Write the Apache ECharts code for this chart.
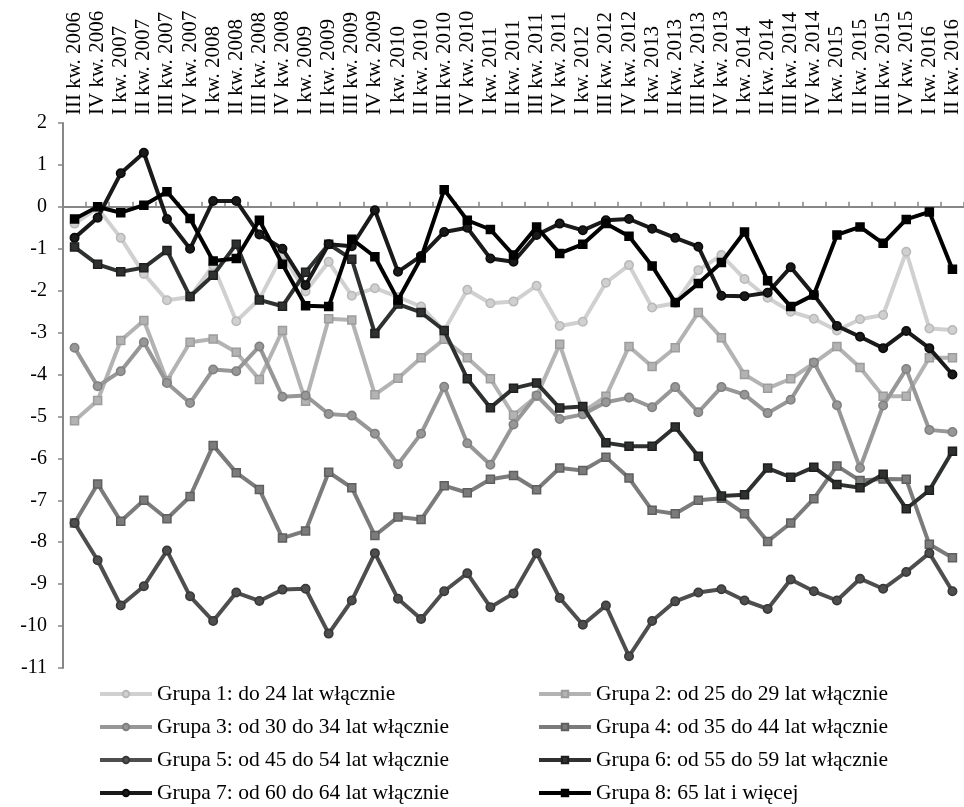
<!DOCTYPE html>
<html>
<head>
<meta charset="utf-8">
<script src="https://cdn.jsdelivr.net/npm/echarts@6/dist/echarts.min.js"></script>
<style>
html,body{margin:0;padding:0;background:#fff;}
#chart{width:964px;height:807px;}
</style>
</head>
<body>
<div id="chart"></div>
<script>
const categories = ['III kw. 2006','IV kw. 2006','I kw. 2007','II kw. 2007','III kw. 2007','IV kw. 2007','I kw. 2008','II kw. 2008','III kw. 2008','IV kw. 2008','I kw. 2009','II kw. 2009','III kw. 2009','IV kw. 2009','I kw. 2010','II kw. 2010','III kw. 2010','IV kw. 2010','I kw. 2011','II kw. 2011','III kw. 2011','IV kw. 2011','I kw. 2012','III kw. 2012','IV kw. 2012','I kw. 2013','II kw. 2013','III kw. 2013','IV kw. 2013','I kw. 2014','II kw. 2014','III kw. 2014','IV kw. 2014','I kw. 2015','II kw. 2015','III kw. 2015','IV kw. 2015','I kw. 2016','II kw. 2016'];

const seriesNames = ['Grupa 1: do 24 lat włącznie','Grupa 2: od 25 do 29 lat włącznie','Grupa 3: od 30 do 34 lat włącznie','Grupa 4: od 35 do 44 lat włącznie','Grupa 5: od 45 do 54 lat włącznie','Grupa 6: od 55 do 59 lat włącznie','Grupa 7: od 60 do 64 lat włącznie','Grupa 8: 65 lat i więcej'];

const grupa1 = [-0.4,-0.03,-0.74,-1.6,-2.23,-2.15,-1.4,-2.73,-2.2,-1.15,-2.02,-1.31,-2.12,-1.94,-2.15,-2.38,-2.95,-1.98,-2.3,-2.26,-1.88,-2.84,-2.74,-1.81,-1.39,-2.4,-2.3,-1.51,-1.15,-1.72,-2.17,-2.5,-2.67,-2.95,-2.68,-2.58,-1.07,-2.9,-2.94];
const grupa2 = [-5.1,-4.62,-3.19,-2.71,-4.15,-3.23,-3.15,-3.47,-4.12,-2.95,-4.64,-2.67,-2.7,-4.48,-4.09,-3.6,-3.16,-3.6,-4.1,-4.97,-4.52,-3.28,-4.9,-4.52,-3.33,-3.81,-3.36,-2.52,-3.12,-4.0,-4.33,-4.1,-3.73,-3.33,-3.83,-4.52,-4.52,-3.6,-3.6];
const grupa3 = [-3.36,-4.28,-3.92,-3.23,-4.2,-4.68,-3.88,-3.92,-3.33,-4.53,-4.5,-4.94,-4.98,-5.41,-6.14,-5.41,-4.29,-5.64,-6.15,-5.19,-4.5,-5.06,-4.95,-4.66,-4.55,-4.78,-4.3,-4.9,-4.3,-4.48,-4.92,-4.6,-3.71,-4.73,-6.23,-4.74,-3.87,-5.32,-5.37];
const grupa4 = [-7.54,-6.61,-7.5,-7.0,-7.44,-6.91,-5.69,-6.34,-6.74,-7.9,-7.73,-6.33,-6.7,-7.84,-7.4,-7.46,-6.65,-6.82,-6.5,-6.41,-6.75,-6.23,-6.29,-5.97,-6.47,-7.24,-7.32,-7.0,-6.95,-7.32,-7.98,-7.54,-6.96,-6.18,-6.53,-6.49,-6.5,-8.05,-8.37];
const grupa5 = [-7.54,-8.43,-9.51,-9.05,-8.2,-9.29,-9.88,-9.2,-9.4,-9.13,-9.11,-10.18,-9.39,-8.26,-9.35,-9.83,-9.17,-8.74,-9.55,-9.22,-8.26,-9.33,-9.97,-9.51,-10.72,-9.88,-9.41,-9.2,-9.12,-9.39,-9.59,-8.89,-9.17,-9.39,-8.87,-9.11,-8.71,-8.26,-9.17];
const grupa6 = [-0.96,-1.37,-1.55,-1.45,-1.04,-2.14,-1.63,-0.89,-2.22,-2.37,-1.56,-0.89,-1.25,-3.02,-2.32,-2.52,-2.95,-4.1,-4.79,-4.33,-4.2,-4.8,-4.76,-5.63,-5.71,-5.71,-5.25,-5.95,-6.9,-6.87,-6.23,-6.45,-6.21,-6.62,-6.7,-6.38,-7.2,-6.76,-5.83];
const grupa7 = [-0.74,-0.26,0.8,1.29,-0.29,-1.0,0.14,0.14,-0.66,-1.0,-1.87,-0.89,-0.94,-0.08,-1.55,-1.17,-0.6,-0.5,-1.23,-1.31,-0.67,-0.4,-0.56,-0.32,-0.29,-0.52,-0.74,-0.95,-2.12,-2.13,-2.05,-1.44,-2.1,-2.84,-3.1,-3.37,-2.96,-3.37,-4.0];
const grupa8 = [-0.29,0,-0.14,0.04,0.36,-0.28,-1.29,-1.23,-0.32,-1.37,-2.36,-2.38,-0.77,-1.19,-2.22,-1.22,0.41,-0.32,-0.54,-1.15,-0.48,-1.11,-0.89,-0.4,-0.7,-1.41,-2.28,-1.83,-1.33,-0.6,-1.76,-2.38,-2.1,-0.67,-0.48,-0.87,-0.3,-0.12,-1.49];

const yTicks = {min: -11, max: 2, interval: 1};

const allData = [grupa1, grupa2, grupa3, grupa4, grupa5, grupa6, grupa7, grupa8];
const lineColors = ['#d0d0d0','#b3b3b3','#979797','#7b7b7b','#4e4e4e','#2f3130','#1a1a1a','#000000'];
const borderColors = ['#b9b9b9','#9c9c9c','#808080','#5f5f5f','#383838','#1e1e1e','#0a0a0a','#000000'];
const symbols = ['circle','rect','circle','rect','circle','rect','circle','rect'];

const FONT = 'Liberation Serif, Times New Roman, serif';

const series = allData.map((d, i) => ({
  name: seriesNames[i],
  type: 'line',
  xAxisIndex: 0,
  data: d,
  symbol: symbols[i],
  symbolSize: symbols[i] === 'rect' ? 8 : 8.5,
  showAllSymbol: true,
  lineStyle: {color: lineColors[i], width: 4},
  itemStyle: {color: lineColors[i], borderColor: borderColors[i], borderWidth: 1.5},
  emphasis: {disabled: true},
  z: 2 + i
}));

// one legend per item, laid out as two columns of four rows
const legendCols = [93, 532];
const legendRows = [678, 711, 744, 777];
const legends = seriesNames.map((n, i) => ({
  data: [n],
  orient: 'horizontal',
  left: legendCols[i % 2],
  top: legendRows[Math.floor(i / 2)],
  itemWidth: 52,
  itemHeight: 8,
  itemGap: 0,
  selectedMode: false,
  lineStyle: {width: 4},
  textStyle: {color: '#000', fontFamily: FONT, fontSize: 21.5}
}));

const chart = echarts.init(document.getElementById('chart'), null, {renderer: 'canvas'});
chart.setOption({
  animation: false,
  backgroundColor: '#ffffff',
  grid: {left: 63, right: 0, top: 123, bottom: 139, containLabel: false},
  xAxis: [
    {
      type: 'category',
      data: categories,
      position: 'top',
      boundaryGap: true,
      axisLine: {show: false, onZero: false},
      axisTick: {show: false},
      axisLabel: {
        rotate: -90,
        interval: 0,
        margin: 8,
        color: '#000',
        fontFamily: FONT,
        fontSize: 21
      },
      splitLine: {show: false}
    },
    {
      type: 'category',
      data: categories,
      position: 'top',
      boundaryGap: true,
      axisLine: {show: true, onZero: true, lineStyle: {color: '#878787', width: 2}},
      axisTick: {show: true, interval: 0, length: 5, lineStyle: {color: '#878787', width: 1.5}},
      axisLabel: {show: false},
      splitLine: {show: false}
    }
  ],
  yAxis: {
    type: 'value',
    min: yTicks.min,
    max: yTicks.max,
    interval: yTicks.interval,
    axisLine: {show: true, lineStyle: {color: '#878787', width: 2}},
    axisTick: {show: true, length: 5, lineStyle: {color: '#878787', width: 1.5}},
    axisLabel: {color: '#000', fontFamily: FONT, fontSize: 20, margin: 16},
    splitLine: {show: false}
  },
  legend: legends,
  series: series
});
</script>
</body>
</html>
